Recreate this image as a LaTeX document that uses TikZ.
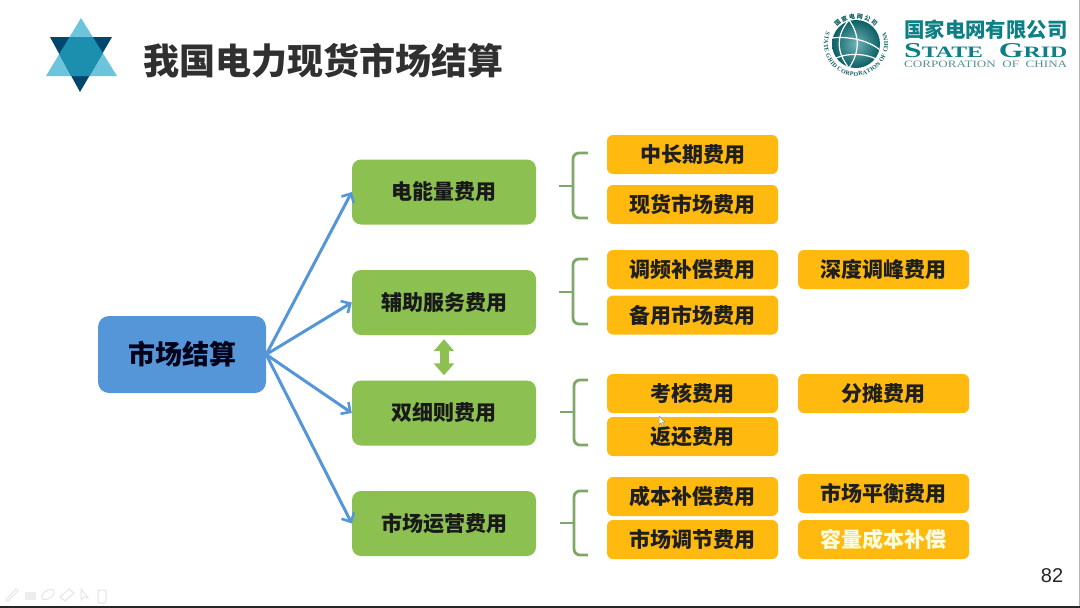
\documentclass[tikz,border=0pt]{standalone}
\usepackage{fontspec}
\usepackage{graphicx}
\usetikzlibrary{arrows.meta,decorations.text}
\setmainfont{Liberation Sans}
\newfontfamily\cjk{Noto Sans CJK SC}
\newfontfamily\logoserif{Liberation Serif}
\definecolor{cblue}{HTML}{5596D8}
\definecolor{cgreen}{HTML}{8CC152}
\definecolor{cyellow}{HTML}{FFB90F}
\definecolor{cbrace}{HTML}{7FA868}
\definecolor{cteal}{HTML}{0F7F86}
\definecolor{ctitle}{HTML}{303030}
\definecolor{starlight}{HTML}{6CC5DC}
\definecolor{stardark}{HTML}{00466E}
\definecolor{starmid}{HTML}{1C8FAF}
\tikzset{
 x=1pt,y=-1pt,
 rootbox/.style={fill=cblue,rounded corners=11pt,minimum width=168pt,minimum height=77pt,inner sep=0pt,font=\cjk\bfseries\fontsize{27pt}{28pt}\selectfont,text=black!90!blue},
 groupbox/.style={fill=cgreen,rounded corners=9pt,minimum width=184pt,minimum height=65pt,inner sep=0pt,font=\cjk\bfseries\fontsize{21pt}{22pt}\selectfont,text=black!90},
 itembox/.style={fill=cyellow,rounded corners=6pt,minimum width=171pt,minimum height=39pt,inner sep=0pt,font=\cjk\bfseries\fontsize{21pt}{22pt}\selectfont,text=black!88},
 flow/.style={draw=cblue,line width=3pt,-{Straight Barb[width=14pt,length=7pt,line width=2.6pt]}},
 curly/.style={draw=cbrace,line width=2.8pt,rounded corners=6pt},
 stem/.style={draw=cbrace,line width=2.8pt},
 ghost/.style={draw=black!10,line width=1pt},
}
\begin{document}
\begin{tikzpicture}
\useasboundingbox (0,0) rectangle (1080,608);
\fill[white] (0,0) rectangle (1080,608);
\fill[black!85] (0,606) rectangle (1080,608);
\fill[black!30] (1079,0) rectangle (1080,606);
% star emblem
\fill[starlight] (81,18) -- (117,76) -- (46,76) -- cycle;
\fill[stardark] (50,37) -- (112,37) -- (80,92) -- cycle;
\begin{scope}
\clip (81,18) -- (117,76) -- (46,76) -- cycle;
\fill[starmid] (50,37) -- (112,37) -- (80,92) -- cycle;
\end{scope}
\node[anchor=west,inner sep=0pt,text=ctitle,font=\cjk\bfseries\fontsize{36pt}{38pt}\selectfont] (title) at (143,61) {我国电力现货市场结算};
% State Grid logo
\shade[inner color=cteal!60!white,outer color=cteal!75!black] (856,44) circle[radius=24];
\begin{scope}
\clip (856,44) circle[radius=24];
\draw[white,line width=1.2pt] (849,20) .. controls (836,35) and (836,52) .. (849,68);
\draw[white,line width=1.2pt] (849,20) .. controls (860,35) and (860,52) .. (849,68);
\draw[white,line width=1.2pt] (832,38) .. controls (848,36) and (868,40) .. (880,50);
\draw[white,line width=1.2pt] (836,58) .. controls (850,52) and (868,54) .. (878,60);
\end{scope}
\begin{scope}[shift={(856,44)},y=1pt]
\path[decorate,decoration={text along path,text align={fit to path},text color=cteal!70!black,text={|\logoserif\bfseries\fontsize{6pt}{7pt}\selectfont|STATE GRID CORPORATION OF CHINA}}] (158:32) arc[start angle=158,end angle=382,radius=32];
\path[decorate,decoration={text along path,text align={fit to path},text color=cteal!70!black,text={|\cjk\bfseries\fontsize{6pt}{7pt}\selectfont|国家电网公司}}] (138:25.5) arc[start angle=138,end angle=42,radius=25.5];
\end{scope}
\node[anchor=west,inner sep=0pt,text=cteal,font=\cjk\bfseries\fontsize{20.4pt}{22pt}\selectfont] (logocn) at (904,30) {国家电网有限公司};
\node[anchor=west,inner sep=0pt,text=cteal] (logoen) at (904,50.5) {\resizebox{163pt}{14pt}{\logoserif\bfseries S{\fontsize{7.5pt}{8pt}\selectfont TATE}\ \ G{\fontsize{7.5pt}{8pt}\selectfont RID}}};
\node[anchor=west,inner sep=0pt,text=cteal!80!black!70!white] (logosub) at (904,64) {\resizebox{163pt}{6.5pt}{\logoserif CORPORATION\ \ OF\ \ CHINA}};
% root and groups
\node[rootbox] (root) at (182,354.5) {市场结算};
\node[groupbox] (g1) at (444,192) {电能量费用};
\node[groupbox] (g2) at (444,302.5) {辅助服务费用};
\node[groupbox] (g3) at (444,413) {双细则费用};
\node[groupbox] (g4) at (444,523.5) {市场运营费用};
% items
\node[itembox] (a1) at (692.5,154.5) {中长期费用};
\node[itembox] (a2) at (692.5,204.5) {现货市场费用};
\node[itembox] (b1) at (692.5,269.5) {调频补偿费用};
\node[itembox] (b2) at (692.5,315) {备用市场费用};
\node[itembox] (b3) at (883.5,269.5) {深度调峰费用};
\node[itembox] (c1) at (692.5,393.5) {考核费用};
\node[itembox] (c2) at (692.5,436.5) {返还费用};
\node[itembox] (c3) at (883.5,393.5) {分摊费用};
\node[itembox] (d1) at (692.5,496.5) {成本补偿费用};
\node[itembox] (d2) at (692.5,539.5) {市场调节费用};
\node[itembox] (d3) at (883.5,493.5) {市场平衡费用};
\node[itembox,text=white!88!yellow] (d4) at (883.5,539.5) {容量成本补偿};
% arrows
\draw[flow] (root.east) -- (g1.west);
\draw[flow] (root.east) -- (g2.west);
\draw[flow] (root.east) -- (g3.west);
\draw[flow] (root.east) -- (g4.west);
\draw[draw=cgreen,line width=9pt,{Triangle[width=20pt,length=12pt]}-{Triangle[width=20pt,length=12pt]},shorten <=4pt,shorten >=5pt] (g2.south) -- (g3.north);
% braces
\draw[curly] (588,153) -- (573,153) -- (573,186);
\draw[curly] (588,218) -- (573,218) -- (573,186);
\draw[stem] (559,186) -- (573,186);
\draw[curly] (588,259) -- (573,259) -- (573,292);
\draw[curly] (588,324) -- (573,324) -- (573,292);
\draw[stem] (559,292) -- (573,292);
\draw[curly] (588,380) -- (574,380) -- (574,412);
\draw[curly] (588,445) -- (574,445) -- (574,412);
\draw[stem] (560,412) -- (574,412);
\draw[curly] (588,491) -- (574,491) -- (574,523);
\draw[curly] (588,555) -- (574,555) -- (574,523);
\draw[stem] (560,523) -- (574,523);
% mouse pointer
\fill[white!85!yellow,draw=black!45,line width=.5pt] (659,416) -- (659,425) -- (661,423) -- (663,427) -- (664,426) -- (662.5,422.5) -- (665,422) -- cycle;
% page number
\node[inner sep=0pt,text=black!85,font=\fontsize{20pt}{22pt}\selectfont] (page) at (1052,576) {82};
% faint toolbar
\draw[ghost] (6,600) -- (16,589) -- (18,591) -- (8,601) -- cycle;
\fill[black!7] (25,592) rectangle (36,600);
\draw[ghost] (42,596) .. controls (44,589) and (56,587) .. (54,593) .. controls (52,600) and (40,602) .. (42,596);
\draw[ghost] (60,597) -- (69,589) -- (74,593) -- (65,601) -- cycle;
\draw[ghost] (81,589) -- (81,600) -- (84,597) -- (88,598) -- cycle;
\draw[ghost,rounded corners=2pt] (98,590) rectangle (106,603);
\end{tikzpicture}
\end{document}
